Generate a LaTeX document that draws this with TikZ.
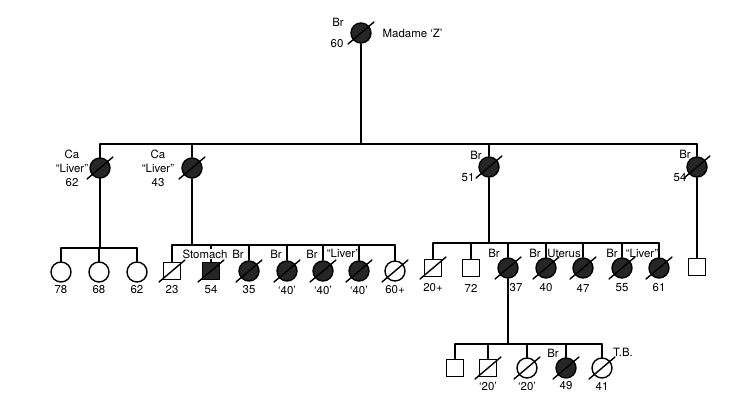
\documentclass[tikz,border=0pt]{standalone}
\usepackage{fontspec}
\setsansfont{TeX Gyre Heros}
\usetikzlibrary{arrows.meta}

\tikzset{
  fem/.style={circle,draw,minimum size=0.40cm,inner sep=0pt,fill=white},
  male/.style={rectangle,draw,minimum size=0.35cm,inner sep=0pt,fill=white},
  aff/.style={fill=black!85},
  lbl/.style={font=\sffamily\fontsize{6.5}{7}\selectfont,inner sep=0pt},
}
% deceased: slash through the symbol
\newcommand{\dead}[1]{\draw ([shift={(-13,11)}]#1.center) -- ([shift={(13,-11)}]#1.center);}

\begin{document}
\begin{tikzpicture}[x=0.02cm,y=-0.02cm,line width=0.8pt,line cap=round]
\useasboundingbox (0,0) rectangle (752,393);
% bars of the sibships
\coordinate (bar2) at (0,144);
\coordinate (bara) at (0,248);
\coordinate (barb) at (0,245);
\coordinate (barc) at (0,243);
\coordinate (bar4) at (0,344);

% generation I
\node[fem,aff] (z) at (361,33) {};
\node[lbl] at (338,22) {Br};
\node[lbl] at (337,44) {60};
\node[lbl,anchor=west] at (382,33) {Madame `Z'};

% generation II
\node[fem,aff] (a) at (100,168) {};
\node[fem,aff] (b) at (192,168) {};
\node[fem,aff] (c) at (489,167) {};
\node[fem,aff] (d) at (697,167) {};
\draw (z.south) -- (z |- bar2);
\draw (a |- bar2) -- (d |- bar2);
\foreach \n in {a,b,c,d} \draw (\n |- bar2) -- (\n.north);
\node[lbl,align=center] at (72,168) {Ca\\[1pt]``Liver''\\[1pt]62};
\node[lbl,align=center] at (158,168) {Ca\\[1pt]``Liver''\\[1pt]43};
\node[lbl] at (476,155) {Br};
\node[lbl] at (468,178) {51};
\node[lbl] at (685,154) {Br};
\node[lbl] at (680,178) {54};

% generation III, children of a
\node[fem] (a1) at (61,272) {};
\node[fem] (a2) at (99,272) {};
\node[fem] (a3) at (137,272) {};
\draw (a.south) -- (a |- bara);
\draw (a1 |- bara) -- (a3 |- bara);
\foreach \n in {a1,a2,a3} \draw (\n |- bara) -- (\n.north);
\node[lbl] at (61,290) {78};
\node[lbl] at (99,290) {68};
\node[lbl] at (137,290) {62};

% generation III, children of b
\node[male] (b1) at (172,271) {};
\node[male,aff] (b2) at (211,271) {};
\node[fem,aff] (b3) at (249,271) {};
\node[fem,aff] (b4) at (287,271) {};
\node[fem,aff] (b5) at (323,271) {};
\node[fem,aff] (b6) at (359,271) {};
\node[fem] (b7) at (395,271) {};
\draw (b.south) -- (b |- barb);
\draw (b1 |- barb) -- (b7 |- barb);
\foreach \n in {b1,b2,b3,b4,b5,b6,b7} \draw (\n |- barb) -- (\n.north);
\node[lbl,fill=white,inner sep=0.6pt] at (205,254) {Stomach};
\node[lbl] at (238,254) {Br};
\node[lbl] at (276,254) {Br};
\node[lbl] at (312,254) {Br};
\node[lbl] at (343,253) {``Liver''};
\node[lbl] at (172,290) {23};
\node[lbl] at (211,290) {54};
\node[lbl] at (249,290) {35};
\node[lbl] at (287,290) {`40'};
\node[lbl] at (323,290) {`40'};
\node[lbl] at (359,290) {`40'};
\node[lbl] at (395,290) {60+};

% generation III, children of c, and son of d
\node[male] (c1) at (433,268) {};
\node[male] (c2) at (471,268) {};
\node[fem,aff] (c3) at (508,268) {};
\node[fem,aff] (c4) at (546,268) {};
\node[fem,aff] (c5) at (583,268) {};
\node[fem,aff] (c6) at (622,268) {};
\node[fem,aff] (c7) at (659,268) {};
\node[male] (d1) at (697,267) {};
\draw (c.south) -- (c |- barc);
\draw (c1 |- barc) -- (c7 |- barc);
\foreach \n in {c1,c2,c3,c4,c5,c6,c7} \draw (\n |- barc) -- (\n.north);
\draw (d.south) -- (d1.north);
\node[lbl] at (494,253) {Br};
\node[lbl] at (535,253) {Br};
\node[lbl] at (564,253) {Uterus};
\node[lbl] at (612,253) {Br};
\node[lbl] at (642,253) {``Liver''};
\node[lbl] at (433,288) {20+};
\node[lbl] at (471,288) {72};
\node[lbl] at (516,288) {37};
\node[lbl] at (546,288) {40};
\node[lbl] at (583,288) {47};
\node[lbl] at (622,288) {55};
\node[lbl] at (659,288) {61};

% generation IV, children of c3
\node[male] (e1) at (455,368) {};
\node[male] (e2) at (488,368) {};
\node[fem] (e3) at (527,368) {};
\node[fem,aff] (e4) at (566,368) {};
\node[fem] (e5) at (602,368) {};
\draw (c3.south) -- (c3 |- bar4);
\draw (e1 |- bar4) -- (e5 |- bar4);
\foreach \n in {e1,e2,e3,e4,e5} \draw (\n |- bar4) -- (\n.north);
\node[lbl] at (553,353) {Br};
\node[lbl] at (623,352) {T.B.};
\node[lbl] at (488,386) {`20'};
\node[lbl] at (527,386) {`20'};
\node[lbl] at (566,386) {49};
\node[lbl] at (602,386) {41};

% deceased
\foreach \n in {z,a,b,c,d,b1,b2,b3,b4,b5,b6,b7,c1,c3,c4,c5,c6,c7,e2,e3,e4,e5} {\dead{\n}}
\end{tikzpicture}
\end{document}
